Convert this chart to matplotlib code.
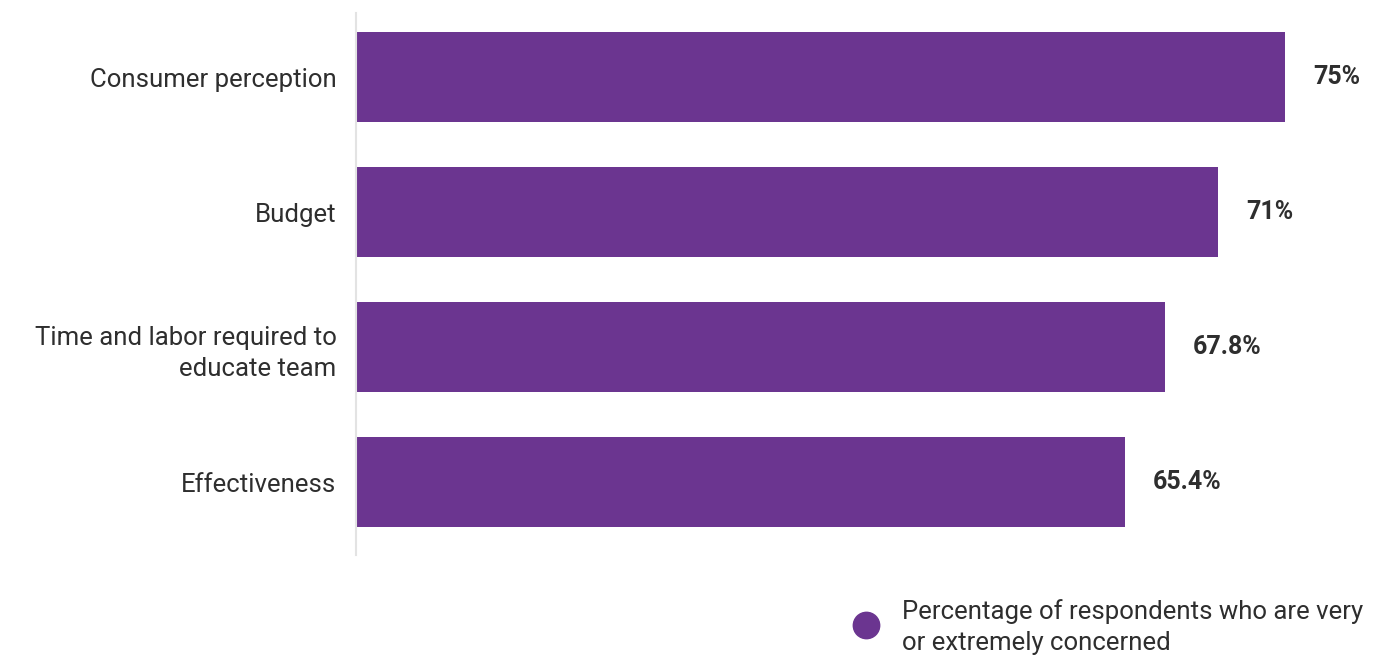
import matplotlib.pyplot as plt
from matplotlib.lines import Line2D

plt.rcParams['font.family'] = ['Roboto', 'DejaVu Sans']

# data
categorias = ['Consumer perception', 'Budget',
              'Time and labor required to\neducate team', 'Effectiveness']
valores = [75, 71, 67.8, 65.4]
rotulos = ['75%', '71%', '67.8%', '65.4%']
legenda = 'Percentage of respondents who are very\nor extremely concerned'

roxo = '#6b3590'
cinza_texto = '#2e2e2e'

fig = plt.figure(figsize=(13.9, 6.58), dpi=100)
ax = fig.add_axes([356 / 1390, 1 - 555 / 658, 1 - 356 / 1390, (555 - 13) / 658])

pos = list(range(len(categorias)))
ax.barh(pos, valores, height=0.667, color=roxo, left=0)

ax.set_xlim(19.2, 81.3)
ax.set_ylim(3.54, -0.474)

for p, v, r in zip(pos, valores, rotulos):
    ax.annotate(r, xy=(v, p), xytext=(20, 0), textcoords='offset points',
                ha='left', va='center', fontsize=18, fontweight='bold',
                color=cinza_texto)

ax.set_yticks(pos)
ax.set_yticklabels(categorias, fontsize=18.5, color=cinza_texto,
                   linespacing=1.4)
ax.tick_params(axis='y', length=0, pad=14)
ax.set_xticks([])
for s in ['top', 'right', 'bottom']:
    ax.spines[s].set_visible(False)
ax.spines['left'].set_color('#e3e3e3')
ax.spines['left'].set_linewidth(1.5)

# legend
fig.add_artist(Line2D([866 / 1390], [1 - 625 / 658], marker='o', markersize=19,
                      color=roxo, linestyle='none', transform=fig.transFigure))
fig.text(902 / 1390, 1 - 627 / 658, legenda, fontsize=18.5, color=cinza_texto,
         ha='left', va='center', linespacing=1.35)

fig.savefig('out.png', dpi=100)
